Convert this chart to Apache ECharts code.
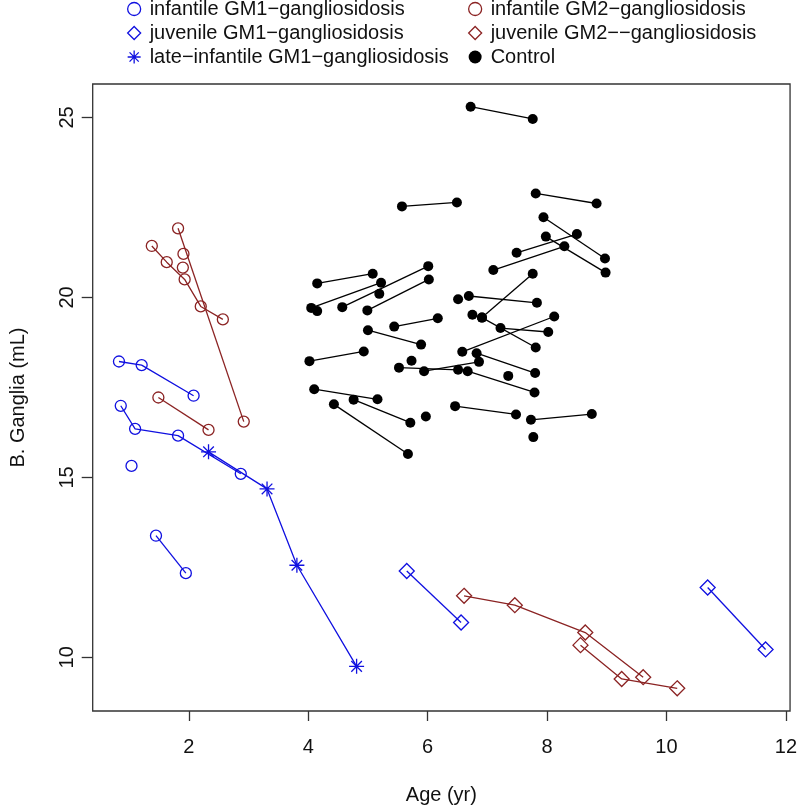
<!DOCTYPE html>
<html>
<head>
<meta charset="utf-8">
<script src="https://cdn.jsdelivr.net/npm/echarts@6/dist/echarts.min.js"></script>
<style>html,body{margin:0;padding:0;background:#fff}#c{width:800px;height:810px}</style>
</head>
<body>
<div id="c"></div>
<script>
// ---- data (age in years, basal ganglia volume in mL); each subject is a list of visits ----
const X_TICKS = [2, 4, 6, 8, 10, 12];
const Y_TICKS = [10, 15, 20, 25];

const infantileGM1 = [
  [[0.83, 18.22], [1.21, 18.12], [2.08, 17.27]],
  [[0.86, 16.99], [1.10, 16.35], [1.82, 16.16], [2.87, 15.10]],
  [[1.04, 15.32]],
  [[1.45, 13.38], [1.95, 12.34]]
];
const juvenileGM1 = [
  [[5.65, 12.40], [6.56, 10.97]],
  [[10.69, 11.94], [11.66, 10.22]]
];
const lateInfantileGM1 = [
  [[2.33, 15.71], [3.31, 14.68], [3.81, 12.56], [4.81, 9.75]]
];
const infantileGM2 = [
  [[1.82, 21.92], [2.92, 16.55]],
  [[1.91, 21.21]],
  [[1.90, 20.83]],
  [[1.38, 21.43], [1.63, 20.98], [1.93, 20.50], [2.20, 19.75], [2.57, 19.39]],
  [[1.49, 17.22], [2.33, 16.32]]
];
const juvenileGM2 = [
  [[6.61, 11.71], [7.46, 11.45], [8.64, 10.69], [9.61, 9.45]],
  [[8.56, 10.34], [9.25, 9.40], [10.18, 9.14]]
];
const control = [
  [[6.72, 25.30], [7.76, 24.96]],
  [[5.57, 22.53], [6.49, 22.64]],
  [[7.81, 22.89], [8.83, 22.61]],
  [[7.94, 22.23], [8.97, 21.08]],
  [[7.49, 21.24], [8.50, 21.76]],
  [[7.98, 21.69], [8.98, 20.69]],
  [[7.10, 20.76], [8.29, 21.42]],
  [[4.15, 20.39], [5.08, 20.66]],
  [[4.05, 19.71], [5.22, 20.41]],
  [[4.15, 19.62]],
  [[4.57, 19.73], [6.01, 20.87]],
  [[5.19, 20.10]],
  [[4.99, 19.64], [6.02, 20.50]],
  [[6.51, 19.95]],
  [[6.69, 20.04], [7.83, 19.85]],
  [[5.44, 19.19], [6.17, 19.42]],
  [[5.00, 19.09], [5.89, 18.69]],
  [[6.75, 19.52]],
  [[6.91, 19.44], [7.76, 20.66]],
  [[6.91, 19.44], [7.81, 18.61]],
  [[7.22, 19.15], [8.02, 19.04]],
  [[6.58, 18.49], [8.12, 19.47]],
  [[6.82, 18.45], [7.80, 17.90]],
  [[5.94, 17.95], [6.86, 18.21]],
  [[5.52, 18.05], [6.51, 17.99]],
  [[5.73, 18.24]],
  [[6.67, 17.95], [7.79, 17.36]],
  [[7.35, 17.82]],
  [[4.02, 18.23], [4.93, 18.50]],
  [[4.10, 17.45], [5.16, 17.17]],
  [[4.76, 17.16], [5.71, 16.52]],
  [[4.43, 17.03], [5.67, 15.65]],
  [[5.97, 16.69]],
  [[6.46, 16.98], [7.48, 16.75]],
  [[7.73, 16.60], [8.75, 16.76]],
  [[7.77, 16.12]]
];

const NAMES = {
  iGM1: 'infantile GM1\u2212gangliosidosis',
  jGM1: 'juvenile GM1\u2212gangliosidosis',
  lGM1: 'late\u2212infantile GM1\u2212gangliosidosis',
  iGM2: 'infantile GM2\u2212gangliosidosis',
  jGM2: 'juvenile GM2\u2212\u2212gangliosidosis',
  ctl: 'Control'
};

// ---- styles ----
const BLUE = '#1010e0';
const RED = '#8b2323';
const BLACK = '#000000';
const STAR = 'path://M0,-10L0,10M-10,0L10,0M-7.07,-7.07L7.07,7.07M-7.07,7.07L7.07,-7.07';
const FONT = "'Liberation Sans', Arial, Helvetica, sans-serif";

const groupStyles = [
  {key: 'iGM1', subjects: infantileGM1, color: BLUE, symbol: 'circle', size: 11, filled: false},
  {key: 'jGM1', subjects: juvenileGM1, color: BLUE, symbol: 'diamond', size: 15, filled: false},
  {key: 'lGM1', subjects: lateInfantileGM1, color: BLUE, symbol: STAR, size: 15, filled: false},
  {key: 'iGM2', subjects: infantileGM2, color: RED, symbol: 'circle', size: 11, filled: false},
  {key: 'jGM2', subjects: juvenileGM2, color: RED, symbol: 'diamond', size: 15, filled: false},
  {key: 'ctl', subjects: control, color: BLACK, symbol: 'circle', size: 10, filled: true}
];

const series = [];
groupStyles.forEach(g => {
  g.subjects.forEach(subj => {
    series.push({
      type: 'line',
      name: NAMES[g.key],
      data: subj,
      symbol: g.symbol,
      symbolSize: g.size,
      showSymbol: true,
      showAllSymbol: true,
      silent: true,
      lineStyle: {color: g.color, width: 1.3},
      itemStyle: g.filled
        ? {color: g.color, borderColor: g.color, borderWidth: 0}
        : {color: 'rgba(0,0,0,0)', borderColor: g.color, borderWidth: 1.3},
      emphasis: {disabled: true},
      z: g.filled ? 3 : 2
    });
  });
});

function legendItem(g) {
  return {
    name: NAMES[g.key],
    icon: g.symbol,
    itemStyle: g.filled
      ? {color: g.color, borderWidth: 0}
      : {color: 'rgba(0,0,0,0)', borderColor: g.color, borderWidth: 1.3}
  };
}

const legendCommon = {
  orient: 'vertical',
  top: -1,
  itemWidth: 13,
  itemHeight: 13,
  itemGap: 4,
  padding: 0,
  selectedMode: false,
  textStyle: {fontSize: 20, color: '#111', fontFamily: FONT, lineHeight: 20, padding: [0, 0, 0, 4]}
};

const chart = echarts.init(document.getElementById('c'), null, {renderer: 'canvas'});
chart.setOption({
  animation: false,
  backgroundColor: '#fff',
  textStyle: {fontFamily: FONT},
  grid: {
    left: 92.7, right: 6.7, top: 84, bottom: 97.3,
    show: true, borderColor: '#333', borderWidth: 1.3, backgroundColor: 'transparent'
  },
  legend: [
    Object.assign({}, legendCommon, {
      left: 127,
      data: [legendItem(groupStyles[0]), legendItem(groupStyles[1]), legendItem(groupStyles[2])]
    }),
    Object.assign({}, legendCommon, {
      left: 468,
      data: [legendItem(groupStyles[3]), legendItem(groupStyles[4]), legendItem(groupStyles[5])]
    })
  ],
  xAxis: {
    type: 'value',
    min: 0.39, max: 12.07,
    name: 'Age (yr)',
    nameLocation: 'middle',
    nameGap: 74,
    nameTextStyle: {fontSize: 20, color: '#111', fontFamily: FONT},
    axisLine: {show: false},
    splitLine: {show: false},
    axisTick: {show: true, length: 10, customValues: X_TICKS, lineStyle: {color: '#333', width: 1.3}},
    axisLabel: {customValues: X_TICKS, fontSize: 20, color: '#111', margin: 26, fontFamily: FONT}
  },
  yAxis: {
    type: 'value',
    min: 8.51, max: 25.93,
    name: 'B. Ganglia (mL)',
    nameLocation: 'middle',
    nameGap: 64,
    nameTextStyle: {fontSize: 20, color: '#111', fontFamily: FONT},
    axisLine: {show: false},
    splitLine: {show: false},
    axisTick: {show: true, length: 11, customValues: Y_TICKS, lineStyle: {color: '#333', width: 1.3}},
    axisLabel: {customValues: Y_TICKS, fontSize: 20, color: '#111', margin: 15, rotate: 90, fontFamily: FONT}
  },
  series: series
});
</script>
</body>
</html>
